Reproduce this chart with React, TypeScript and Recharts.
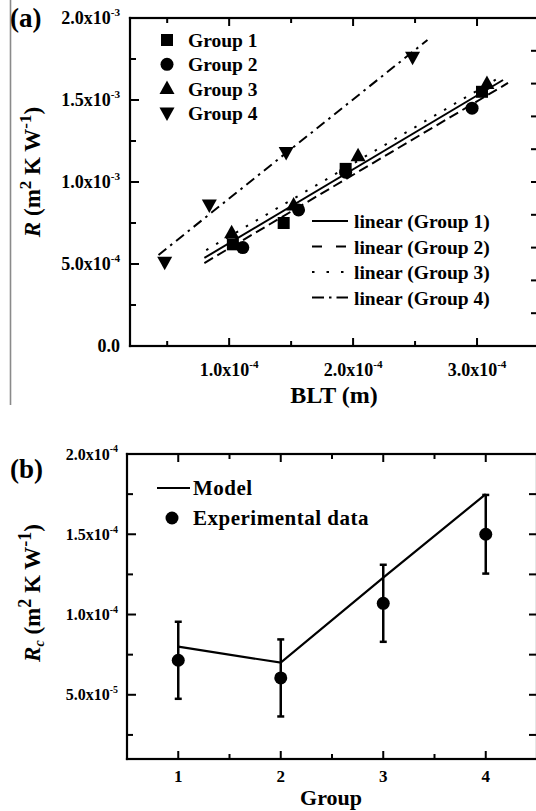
import React from "react";
import {
  ComposedChart,
  Line,
  Scatter,
  XAxis,
  YAxis,
  Label,
  ErrorBar,
} from "recharts";

const FONT = "'Liberation Serif', 'Times New Roman', serif";
const INK = "#000";

// (a) thermal resistance R vs bond line thickness (BLT)
const group1 = [
  { x: 1.03e-4, y: 0.62e-3 },
  { x: 1.44e-4, y: 0.75e-3 },
  { x: 1.94e-4, y: 1.08e-3 },
  { x: 3.04e-4, y: 1.55e-3 },
];
const group2 = [
  { x: 1.11e-4, y: 0.6e-3 },
  { x: 1.56e-4, y: 0.83e-3 },
  { x: 1.94e-4, y: 1.06e-3 },
  { x: 2.96e-4, y: 1.45e-3 },
];
const group3 = [
  { x: 1.02e-4, y: 0.69e-3 },
  { x: 1.52e-4, y: 0.86e-3 },
  { x: 2.04e-4, y: 1.16e-3 },
  { x: 3.08e-4, y: 1.6e-3 },
];
const group4 = [
  { x: 0.48e-4, y: 0.51e-3 },
  { x: 0.84e-4, y: 0.86e-3 },
  { x: 1.46e-4, y: 1.18e-3 },
  { x: 2.48e-4, y: 1.76e-3 },
];

// end points of the linear fits
const fit1 = [
  { x: 0.8e-4, y: 0.537e-3 },
  { x: 3.21e-4, y: 1.622e-3 },
];
const fit2 = [
  { x: 0.8e-4, y: 0.506e-3 },
  { x: 3.25e-4, y: 1.604e-3 },
];
const fit3 = [
  { x: 0.815e-4, y: 0.585e-3 },
  { x: 3.2e-4, y: 1.646e-3 },
];
const fit4 = [
  { x: 0.43e-4, y: 0.555e-3 },
  { x: 2.6e-4, y: 1.866e-3 },
];

const groupNames = ["Group 1", "Group 2", "Group 3", "Group 4"];
const fitNames = groupNames.map((g) => `linear (${g})`);

// (b) contact resistance Rc per group
const groups = [1, 2, 3, 4];
const modelRc = [8.0e-5, 7.0e-5, 1.23e-4, 1.75e-4];
const expRc = [7.15e-5, 6.05e-5, 1.07e-4, 1.5e-4];
const expErr = [2.4e-5, 2.4e-5, 2.4e-5, 2.45e-5];

const modelData = groups.map((g, i) => ({ x: g, y: modelRc[i] }));
const expData = groups.map((g, i) => ({ x: g, y: expRc[i], err: expErr[i] }));

// axes
const bltDomain = [0.2e-4, 3.5e-4];
const rDomain = [0, 2e-3];
const bltTicks = [0.5e-4, 1.0e-4, 1.5e-4, 2.0e-4, 2.5e-4, 3.0e-4];
const bltMajor = [1.0e-4, 2.0e-4, 3.0e-4];
const rTicks = [0, 2.5e-4, 5e-4, 7.5e-4, 1e-3, 1.25e-3, 1.5e-3, 1.75e-3, 2e-3];
const rMajor = [0, 5e-4, 1e-3, 1.5e-3, 2e-3];
const rRightTicks = [2e-4, 4e-4, 6e-4, 8e-4, 1e-3, 1.2e-3, 1.4e-3, 1.6e-3, 1.8e-3];
const groupDomain = [0.5, 4.5];
const rcDomain = [1e-5, 2e-4];
const groupTicks = [1, 1.5, 2, 2.5, 3, 3.5, 4];
const groupMajor = [1, 2, 3, 4];
const rcTicks = [2.5e-5, 5e-5, 7.5e-5, 1e-4, 1.25e-4, 1.5e-4, 1.75e-4, 2e-4];
const rcMajor = [5e-5, 1e-4, 1.5e-4, 2e-4];

// plot boxes (chart-local pixels), also used for the chart margins
const boxA = { left: 130, top: 18, right: 539, bottom: 346 };
const boxB = { left: 127, top: 44, right: 537, bottom: 349 };

const isIn = (list: number[], v: number) =>
  list.some((m) => Math.abs(m - v) <= Math.abs(m) * 1e-6 + 1e-15);

const txt = { fontFamily: FONT, fontWeight: "bold" as const, fill: INK };

const SciText = ({ x, y, value, fs, anchor }: any) => {
  if (value === 0) {
    return (
      <text x={x} y={y} textAnchor={anchor} fontSize={fs} {...txt}>
        0.0
      </text>
    );
  }
  const e = Math.floor(Math.log10(Math.abs(value)) + 1e-9);
  const m = (value / Math.pow(10, e)).toFixed(1);
  return (
    <text x={x} y={y} textAnchor={anchor} fontSize={fs} {...txt}>
      <tspan>{m}x10</tspan>
      <tspan dy={-fs * 0.45} fontSize={fs * 0.62}>
        {e}
      </tspan>
    </text>
  );
};

const BottomLabel = ({ x, y, payload, major, fs, dy, sci }: any) => {
  if (!isIn(major, payload.value)) return <g />;
  return sci ? (
    <SciText x={x} y={y + dy} value={payload.value} fs={fs} anchor="middle" />
  ) : (
    <text x={x} y={y + dy} textAnchor="middle" fontSize={fs} {...txt}>
      {payload.value}
    </text>
  );
};

const LeftLabel = ({ x, y, payload, major, fs, dx }: any) => {
  if (!isIn(major, payload.value)) return <g />;
  return <SciText x={x - dx} y={y + fs * 0.35} value={payload.value} fs={fs} anchor="end" />;
};

const lin = (v: number, d: number[], p0: number, p1: number) => p0 + ((v - d[0]) / (d[1] - d[0])) * (p1 - p0);

// plot box with inward ticks, drawn as filled rectangles
const Frame = ({ box, xDomain, yDomain, xTicks, xMajor, yTicks, yMajor, yRight }: any) => {
  const { left, right, top, bottom } = box;
  const w = 2.2;
  const tw = 2;
  return (
    <g fill={INK} stroke="none">
      <rect x={left - w / 2} y={top - w / 2} width={right - left + w} height={w} />
      <rect x={left - w / 2} y={bottom - w / 2} width={right - left + w} height={w} />
      <rect x={left - w / 2} y={top - w / 2} width={w} height={bottom - top + w} />
      <rect x={right - w / 2} y={top - w / 2} width={w} height={bottom - top + w} />
      {xTicks.map((t: number) => {
        const x = lin(t, xDomain, left, right);
        const len = isIn(xMajor, t) ? 8 : 5;
        return (
          <g key={`x${t}`}>
            <rect x={x - tw / 2} y={bottom - len} width={tw} height={len} />
            <rect x={x - tw / 2} y={top} width={tw} height={len} />
          </g>
        );
      })}
      {yTicks.map((t: number) => {
        const y = lin(t, yDomain, bottom, top);
        const len = isIn(yMajor, t) ? 9 : 6;
        return <rect key={`y${t}`} x={left} y={y - tw / 2} width={len} height={tw} />;
      })}
      {yRight.map((t: number) => {
        const y = lin(t, yDomain, bottom, top);
        return <rect key={`r${t}`} x={right - 8} y={y - tw / 2} width={8} height={tw} />;
      })}
    </g>
  );
};

const square = ({ cx, cy }: any) => <rect x={cx - 6} y={cy - 6} width={12} height={12} fill={INK} />;
const circle = ({ cx, cy }: any) => <circle cx={cx} cy={cy} r={6.5} fill={INK} />;
const triUp = ({ cx, cy }: any) => (
  <polygon points={`${cx},${cy - 8} ${cx + 7.5},${cy + 5.5} ${cx - 7.5},${cy + 5.5}`} fill={INK} />
);
const triDown = ({ cx, cy }: any) => (
  <polygon points={`${cx},${cy + 8} ${cx + 7.5},${cy - 5.5} ${cx - 7.5},${cy - 5.5}`} fill={INK} />
);
const dot = ({ cx, cy }: any) => <circle cx={cx} cy={cy} r={6.5} fill={INK} />;

const markerShapes = [square, circle, triUp, triDown];
const fitDash = [undefined, "10 5", "2.5 9", "10 5 2.5 5"];
const legendDash = [undefined, "10 14", "2.5 12", "12 5 2.5 5"];

const LegendA = () => (
  <g>
    {groupNames.map((n, i) => {
      const y = 40 + i * 24.3;
      const Shape = markerShapes[i];
      return (
        <g key={n}>
          <Shape cx={167} cy={y} />
          <text x={188} y={y + 7} fontSize={19.5} {...txt}>
            {n}
          </text>
        </g>
      );
    })}
    {fitNames.map((n, i) => {
      const y = 221 + i * 25.5;
      return (
        <g key={n}>
          <line x1={312} x2={348} y1={y} y2={y} stroke={INK} strokeWidth={2} strokeDasharray={legendDash[i]} />
          <text x={354} y={y + 7} fontSize={19.5} {...txt}>
            {n}
          </text>
        </g>
      );
    })}
  </g>
);

const LegendB = () => (
  <g>
    <line x1={157} x2={190} y1={78} y2={78} stroke={INK} strokeWidth={2} />
    <text x={193} y={85} fontSize={21} letterSpacing={0.5} {...txt}>
      Model
    </text>
    <circle cx={172} cy={108} r={6.5} fill={INK} />
    <text x={193} y={115} fontSize={21} letterSpacing={0.5} {...txt}>
      Experimental data
    </text>
  </g>
);

const TitleA = () => (
  <g>
    <rect x={9.7} y={0} width={1.6} height={405} fill="#8a8a8a" />
    <text x={10} y={27} fontSize={27} {...txt}>
      (a)
    </text>
    <text transform="translate(40,172) rotate(-90)" textAnchor="middle" fontSize={23} {...txt}>
      <tspan fontStyle="italic">R</tspan>
      <tspan> (m</tspan>
      <tspan dy={-9} fontSize={17}>2</tspan>
      <tspan dy={9}> K W</tspan>
      <tspan dy={-9} fontSize={17}>-1</tspan>
      <tspan dy={9}>)</tspan>
    </text>
  </g>
);

const TitleB = () => (
  <g>
    <text x={10} y={68} fontSize={27} {...txt}>
      (b)
    </text>
    <text transform="translate(40,183) rotate(-90)" textAnchor="middle" fontSize={23} {...txt}>
      <tspan fontStyle="italic">R</tspan>
      <tspan dy={4} fontSize={14} fontStyle="italic">c</tspan>
      <tspan dy={-4}> (m</tspan>
      <tspan dy={-9} fontSize={18}>2</tspan>
      <tspan dy={9}> K W</tspan>
      <tspan dy={-9} fontSize={18}>-1</tspan>
      <tspan dy={9}>)</tspan>
    </text>
  </g>
);

const PanelA = () => (
  <ComposedChart width={545} height={410} margin={{ top: boxA.top, right: 545 - boxA.right, left: 0, bottom: 0 }}>
    <XAxis
      xAxisId="b"
      type="number"
      dataKey="x"
      domain={bltDomain}
      allowDataOverflow
      ticks={bltTicks}
      interval={0}
      height={410 - boxA.bottom}
      tickSize={0}
      tickMargin={0}
      tickLine={false}
      axisLine={{ stroke: INK, strokeWidth: 2 }}
      tick={(p: any) => <BottomLabel {...p} major={bltMajor} fs={18} dy={30} sci />}
    >
      <Label
        content={() => (
          <g>
            <Frame
              box={boxA}
              xDomain={bltDomain}
              yDomain={rDomain}
              xTicks={bltTicks}
              xMajor={bltMajor}
              yTicks={rTicks}
              yMajor={rMajor}
              yRight={rRightTicks}
            />
            <text x={334} y={403} textAnchor="middle" fontSize={24} {...txt}>
              BLT (m)
            </text>
            <LegendA />
          </g>
        )}
      />
    </XAxis>
    <YAxis
      yAxisId="l"
      type="number"
      dataKey="y"
      domain={rDomain}
      allowDataOverflow
      ticks={rTicks}
      interval={0}
      width={boxA.left}
      tickSize={0}
      tickMargin={0}
      tickLine={false}
      axisLine={{ stroke: INK, strokeWidth: 2 }}
      tick={(p: any) => <LeftLabel {...p} major={rMajor} fs={18} dx={10} />}
    >
      <Label content={() => <TitleA />} />
    </YAxis>
    {[fit1, fit2, fit3, fit4].map((d, i) => (
      <Line
        key={`fit${i}`}
        xAxisId="b"
        yAxisId="l"
        data={d}
        dataKey="y"
        stroke={INK}
        strokeWidth={2}
        strokeDasharray={fitDash[i]}
        dot={false}
        isAnimationActive={false}
      />
    ))}
    {[group1, group2, group3, group4].map((d, i) => (
      <Scatter
        key={`g${i}`}
        xAxisId="b"
        yAxisId="l"
        data={d}
        dataKey="y"
        shape={markerShapes[i]}
        isAnimationActive={false}
      />
    ))}
  </ComposedChart>
);

const PanelB = () => (
  <ComposedChart width={545} height={401} margin={{ top: boxB.top, right: 545 - boxB.right, left: 0, bottom: 0 }}>
    <XAxis
      xAxisId="b"
      type="number"
      dataKey="x"
      domain={groupDomain}
      allowDataOverflow
      ticks={groupTicks}
      interval={0}
      height={401 - boxB.bottom}
      tickSize={0}
      tickMargin={0}
      tickLine={false}
      axisLine={{ stroke: INK, strokeWidth: 2 }}
      tick={(p: any) => <BottomLabel {...p} major={groupMajor} fs={17} dy={23} />}
    >
      <Label
        content={() => (
          <g>
            <Frame
              box={boxB}
              xDomain={groupDomain}
              yDomain={rcDomain}
              xTicks={groupTicks}
              xMajor={groupMajor}
              yTicks={rcTicks}
              yMajor={rcMajor}
              yRight={rcTicks}
            />
            <text x={331} y={395} textAnchor="middle" fontSize={22} {...txt}>
              Group
            </text>
            <LegendB />
          </g>
        )}
      />
    </XAxis>
    <YAxis
      yAxisId="l"
      type="number"
      dataKey="y"
      domain={rcDomain}
      allowDataOverflow
      ticks={rcTicks}
      interval={0}
      width={boxB.left}
      tickSize={0}
      tickMargin={0}
      tickLine={false}
      axisLine={{ stroke: INK, strokeWidth: 2 }}
      tick={(p: any) => <LeftLabel {...p} major={rcMajor} fs={16} dx={9} />}
    >
      <Label content={() => <TitleB />} />
    </YAxis>
    <Line
      xAxisId="b"
      yAxisId="l"
      data={modelData}
      dataKey="y"
      stroke={INK}
      strokeWidth={2.2}
      dot={false}
      isAnimationActive={false}
    />
    <Scatter
      xAxisId="b"
      yAxisId="l"
      data={expData}
      dataKey="y"
      shape={dot}
      isAnimationActive={false}
    >
      <ErrorBar dataKey="err" direction="y" width={3.5} stroke={INK} strokeWidth={2.5} isAnimationActive={false} />
    </Scatter>
  </ComposedChart>
);

export default function App() {
  return (
    <div style={{ position: "relative", width: 536, height: 811, overflow: "hidden", background: "#fff" }}>
      <style>{"body{margin:0;overflow:hidden;background:#fff}"}</style>
      <PanelA />
      <PanelB />
    </div>
  );
}
